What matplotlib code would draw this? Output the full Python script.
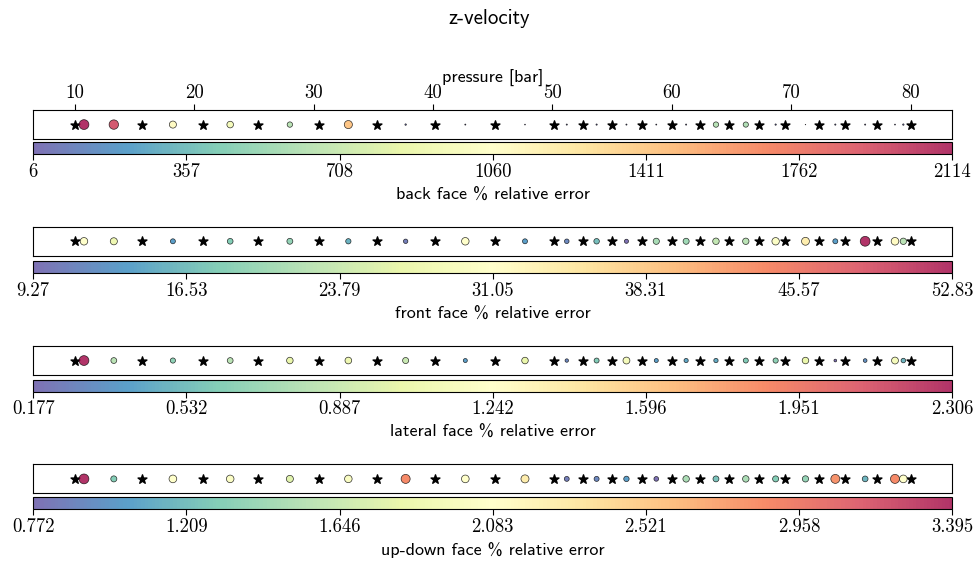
import numpy as np
import matplotlib.pyplot as plt

# pressures [bar] of the training and test snapshots
train_p = [10.0, 15.6, 20.7, 25.3, 30.4, 35.3, 40.2, 45.2, 50.1, 52.6, 55.0,
           57.5, 60.0, 62.4, 64.8, 67.3, 69.5, 72.3, 74.5, 77.2, 80.0]
test_p = [10.75, 13.25, 18.2, 23.0, 28.0, 32.9, 37.7, 42.7, 47.7, 51.2, 53.7,
          56.2, 58.7, 61.2, 63.7, 66.2, 68.7, 71.2, 73.7, 76.2, 78.7, 79.4]

# % relative error of the z-velocity on each face, one value per test pressure
back_err = [2114, 1945, 1100, 955, 640, 1440, 48, 25, 15, 30, 35,
            28, 22, 30, 630, 600, 40, 6, 35, 30, 20, 45]
front_err = [31.0, 27.6, 13.6, 18.0, 19.3, 15.4, 10.6, 31.0, 13.6, 11.5, 16.7,
             9.27, 21.0, 20.2, 23.2, 22.3, 30.2, 34.1, 13.6, 52.83, 31.9, 22.3]
lateral_err = [2.306, 0.816, 0.645, 0.816, 1.029, 1.07, 0.88, 0.39, 1.03, 0.283, 0.60,
               1.135, 0.39, 0.43, 0.45, 0.60, 0.645, 1.03, 0.177, 0.33, 1.135, 0.50]
updown_err = [3.395, 1.297, 2.083, 2.03, 1.77, 2.005, 2.87, 2.083, 2.27, 0.85, 0.90,
              1.034, 0.772, 1.48, 1.24, 1.48, 1.30, 1.38, 2.82, 1.17, 2.87, 2.083]

faces = ['back', 'front', 'lateral', 'up-down']
errors = [back_err, front_err, lateral_err, updown_err]
fmts = [lambda t: str(int(t)),
        lambda t: '{:.2f}'.format(t),
        lambda t: '{:.3f}'.format(t),
        lambda t: '{:.3f}'.format(t)]

fig = plt.figure(figsize=(9.78, 5.66), dpi=100)

left, width = 0.034, 0.9397
strip_bottoms = [0.7544, 0.5482, 0.3375, 0.1284]
cbar_bottoms = [0.7274, 0.5171, 0.3080, 0.1002]

for i, (face, err, fmt) in enumerate(zip(faces, errors, fmts)):
    err = np.asarray(err, dtype=float)
    vmin, vmax = err.min(), err.max()

    ax = fig.add_axes([left, strip_bottoms[i], width, 0.051])
    ax.scatter(train_p, np.zeros(len(train_p)), marker='*', s=45, c='k', zorder=2)
    sc = ax.scatter(test_p, np.zeros(len(test_p)), c=err, cmap='Spectral_r',
                    vmin=vmin, vmax=vmax, s=50 * err / vmax, alpha=0.8,
                    edgecolors='k', linewidths=0.5, zorder=3)
    ax.set_yticks([])
    if i == 0:
        ax.xaxis.tick_top()
        ax.xaxis.set_label_position('top')
        ax.set_xticks(range(10, 81, 10))
        ax.tick_params(axis='x', labelsize=13.5, pad=2, length=4)
        for lab in ax.get_xticklabels():
            lab.set_fontfamily('cmr10')
        ax.set_xlabel('pressure [bar]', fontfamily='cmss10', fontsize=13, labelpad=1)
    else:
        ax.set_xticks([])

    cax = fig.add_axes([left, cbar_bottoms[i], width, 0.021])
    ticks = np.linspace(vmin, vmax, 7)
    cb = fig.colorbar(sc, cax=cax, orientation='horizontal', ticks=ticks)
    cb.set_ticklabels([fmt(t) for t in ticks])
    cax.tick_params(labelsize=13.5, length=4, pad=2)
    for lab in cax.get_xticklabels():
        lab.set_fontfamily('cmr10')
    cb.set_label(face + ' face % relative error', fontfamily='cmss10', fontsize=13, labelpad=5)

fig.text(0.5, 0.968, 'z-velocity', ha='center', va='center', fontfamily='cmss10', fontsize=15)

fig.savefig('out.png', dpi=100)
